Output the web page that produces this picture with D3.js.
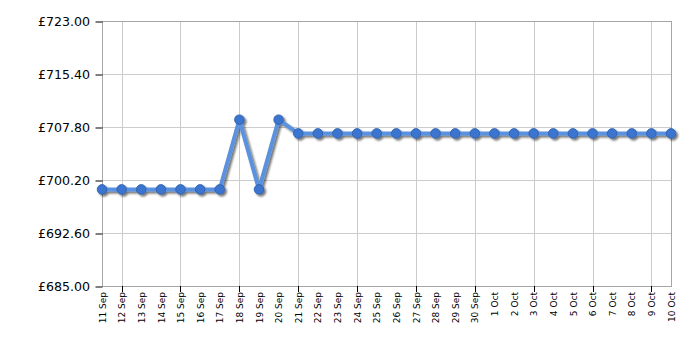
<!DOCTYPE html>
<html>
<head>
<meta charset="utf-8">
<script src="https://cdn.jsdelivr.net/npm/d3@7"></script>
<style>
  body { margin: 0; background: #fff; }
  svg { display: block; }
</style>
</head>
<body>
<div id="chart"></div>
<script>
// dates and prices
let dates = ["11 Sep", "12 Sep", "13 Sep", "14 Sep", "15 Sep", "16 Sep", "17 Sep", "18 Sep", "19 Sep", "20 Sep",
    "21 Sep", "22 Sep", "23 Sep", "24 Sep", "25 Sep", "26 Sep", "27 Sep", "28 Sep", "29 Sep", "30 Sep",
    "1 Oct", "2 Oct", "3 Oct", "4 Oct", "5 Oct", "6 Oct", "7 Oct", "8 Oct", "9 Oct", "10 Oct"];
let prices = [698.85, 698.85, 698.85, 698.85, 698.85, 698.85, 698.85, 708.85, 698.85, 708.85,
    706.88, 706.88, 706.88, 706.88, 706.88, 706.88, 706.88, 706.88, 706.88, 706.88,
    706.88, 706.88, 706.88, 706.88, 706.88, 706.88, 706.88, 706.88, 706.88, 706.88];
let yTicks = [685.00, 692.60, 700.20, 707.80, 715.40, 723.00];
let gridDates = ["12 Sep", "15 Sep", "18 Sep", "21 Sep", "24 Sep", "27 Sep", "30 Sep", "3 Oct", "6 Oct", "9 Oct"];

let margin = { top: 21, right: 29, bottom: 64, left: 102 };
let width = 700 - margin.left - margin.right;
let height = 350 - margin.top - margin.bottom;

let svg = d3.select("#chart").append("svg")
    .attr("width", 700)
    .attr("height", 350);

let defs = svg.append("defs");
let f = defs.append("filter").attr("id", "shadow")
    .attr("x", "-20%").attr("y", "-20%").attr("width", "140%").attr("height", "140%");
f.append("feGaussianBlur").attr("in", "SourceAlpha").attr("stdDeviation", 1.2).attr("result", "b");
f.append("feOffset").attr("in", "b").attr("dx", 1.5).attr("dy", 2).attr("result", "o");
f.append("feComponentTransfer").attr("in", "o").attr("result", "s")
    .append("feFuncA").attr("type", "linear").attr("slope", 0.55);
let m = f.append("feMerge");
m.append("feMergeNode").attr("in", "s");
m.append("feMergeNode").attr("in", "SourceGraphic");

let g = svg.append("g").attr("transform", "translate(" + margin.left + "," + margin.top + ")");

let x = d3.scalePoint()
    .domain(dates)
    .range([0, width]);

let y = d3.scaleLinear()
    .domain([685, 723])
    .range([height, 0]);

// grid
g.append("g").selectAll("line.h")
    .data(yTicks.slice(1, -1))
    .enter().append("line")
    .attr("x1", 0).attr("x2", width)
    .attr("y1", d => y(d) + 0.5).attr("y2", d => y(d) + 0.5)
    .style("stroke", "#cccccc");

g.append("g").selectAll("line.v")
    .data(gridDates)
    .enter().append("line")
    .attr("x1", d => Math.round(x(d)) + 0.5).attr("x2", d => Math.round(x(d)) + 0.5)
    .attr("y1", 0).attr("y2", height)
    .style("stroke", "#cccccc");

// frame
g.append("rect")
    .attr("x", 0.5).attr("y", 0.5)
    .attr("width", width).attr("height", height)
    .style("fill", "none")
    .style("stroke", "#a6a6a6");

// y axis
let yAxis = g.append("g")
    .attr("class", "axis axis--y")
    .call(d3.axisLeft(y).tickValues(yTicks).tickSize(7).tickPadding(5)
        .tickFormat(d => "£" + d3.format(".2f")(d)));
yAxis.select(".domain").remove();
yAxis.selectAll("line").style("stroke", "#000").attr("transform", "translate(0.5,0.5)");
yAxis.selectAll("text")
    .style("font", "12.6px 'DejaVu Sans', Verdana, sans-serif")
    .style("fill", "#000");

// x axis
let xAxis = g.append("g")
    .attr("class", "axis axis--x")
    .attr("transform", "translate(0," + height + ")")
    .call(d3.axisBottom(x).tickSize(0).tickFormat(d => d));
xAxis.select(".domain").remove();
xAxis.selectAll("text")
    .style("font", "9px 'DejaVu Sans', Verdana, sans-serif")
    .style("fill", "#000")
    .attr("text-anchor", "end")
    .attr("transform", "rotate(-90)")
    .attr("x", -6)
    .attr("y", 0)
    .attr("dy", "0.35em");

g.append("g").selectAll("line.t")
    .data(gridDates)
    .enter().append("line")
    .attr("x1", d => Math.round(x(d)) + 0.5).attr("x2", d => Math.round(x(d)) + 0.5)
    .attr("y1", height).attr("y2", height + 6)
    .style("stroke", "#000");

// series
let line = d3.line()
    .x((d, i) => x(dates[i]))
    .y(d => y(d));

let series = g.append("g").attr("filter", "url(#shadow)");

series.append("path")
    .datum(prices)
    .attr("d", line)
    .style("fill", "none")
    .style("stroke", "#5a92e0")
    .style("stroke-width", 4)
    .style("stroke-linejoin", "round");

series.selectAll("circle")
    .data(prices)
    .enter().append("circle")
    .attr("cx", (d, i) => x(dates[i]))
    .attr("cy", d => y(d))
    .attr("r", 4.8)
    .style("fill", "#3b75d0")
    .style("stroke", "#2b5ca8")
    .style("stroke-width", 0.8);
</script>
</body>
</html>
